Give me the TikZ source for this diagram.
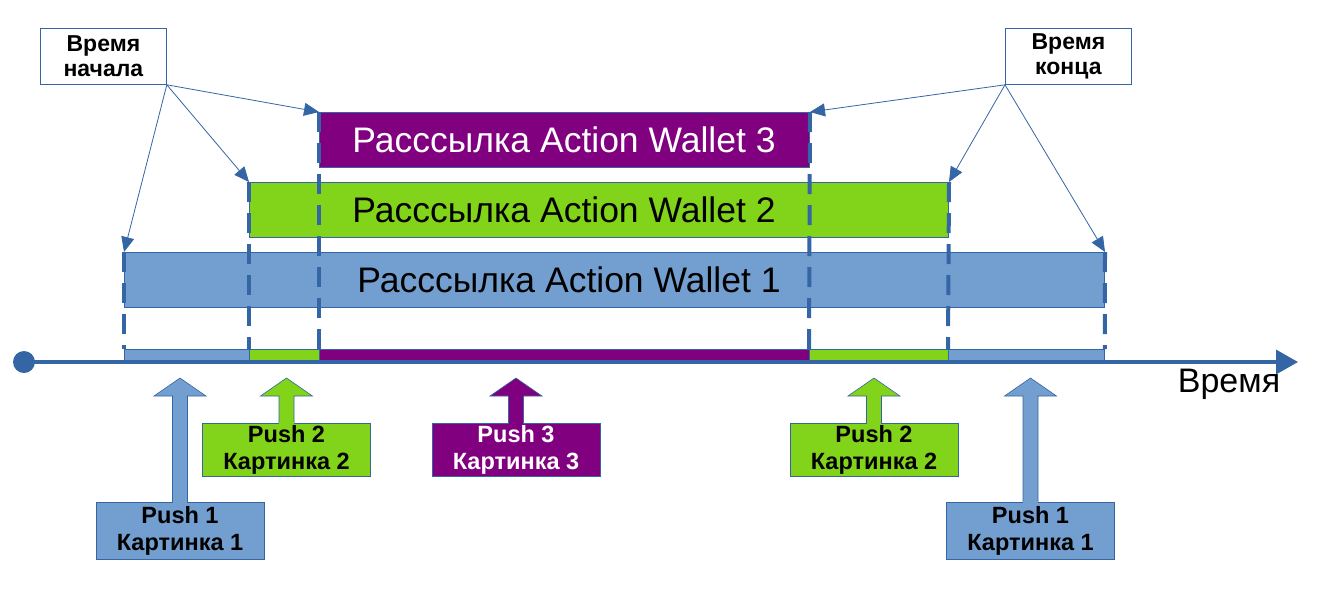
\documentclass[tikz,border=0pt]{standalone}
\usepackage{fontspec}
\setmainfont{Liberation Sans}
\usetikzlibrary{arrows.meta,calc}
\definecolor{cblue}{HTML}{729FCF}
\definecolor{cgreen}{HTML}{81D41A}
\definecolor{cpurple}{HTML}{800080}
\definecolor{cedge}{HTML}{3465A4}
\tikzset{
  bar/.style={draw=cedge, line width=1pt, inner sep=0pt, anchor=north west, minimum height=55pt},
  bartext/.style={inner sep=0pt, font=\fontsize{35.5}{40}\selectfont},
  callout/.style={draw=cedge, fill=white, line width=0.8pt, inner sep=0pt, anchor=north west,
    minimum width=126pt, minimum height=56pt, align=center, font=\bfseries\fontsize{23}{25}\selectfont},
  callarrow/.style={draw=cedge, line width=0.8pt, -{Triangle[length=15pt,width=13pt]}},
  stripseg/.style={draw=cedge, line width=0.8pt, inner sep=0pt, anchor=north west, minimum height=13pt},
  vdash/.style={draw=cedge, line width=4pt, dash pattern=on 20pt off 11pt},
  pushbox/.style={draw=cedge, line width=0.8pt, inner sep=0pt, minimum width=168pt,
    align=center, font=\bfseries\fontsize{23.5}{27}\selectfont},
  pusharrow/.style={draw=cedge, line width=0.6pt},
}
\begin{document}
\begin{tikzpicture}[x=1pt,y=-1pt]
\useasboundingbox (0,0) rectangle (1330,603);

% bars
\node[bar, fill=cblue, minimum width=980pt] (w1) at (124,252) {};
\node[bar, fill=cgreen, minimum width=699pt] (w2) at (249,182) {};
\node[bar, fill=cpurple, minimum width=490pt] (w3) at (319,112) {};
\node[bartext, text=black] (t1) at (569,279.5) {Расссылка Action Wallet 1};
\node[bartext, text=black] (t2) at (564,209.5) {Расссылка Action Wallet 2};
\node[bartext, text=white] (t3) at (564,139.5) {Расссылка Action Wallet 3};

% timeline strip
\node[stripseg, fill=cblue, minimum width=125pt] (s1) at (124,349) {};
\node[stripseg, fill=cgreen, minimum width=70pt] (s2) at (249,349) {};
\node[stripseg, fill=cpurple, minimum width=490pt] (s3) at (319,349) {};
\node[stripseg, fill=cgreen, minimum width=139pt] (s4) at (809,349) {};
\node[stripseg, fill=cblue, minimum width=156pt] (s5) at (948,349) {};

% axis
\node[circle, fill=cedge, minimum size=22pt, inner sep=0pt] (dot) at (24,362) {};
\coordinate (axend) at (1298,362);
\draw[cedge, line width=3.5pt, -{Triangle[length=22pt,width=24pt]}] (dot.center) -- (axend);
\node[anchor=base, inner sep=0pt, font=\fontsize{34}{40}\selectfont] (tl) at (1229,392) {Время};

% dashed verticals
\draw[vdash] (w1.north west) -- (s1.north west);
\draw[vdash] (w2.north west) -- (s2.north west);
\draw[vdash] (w3.north west) -- (s3.north west);
\draw[vdash] (w3.north east) -- (s4.north west);
\draw[vdash] (w2.north east) -- (s5.north west);
\draw[vdash] (w1.north east) -- (s5.north east);

% callouts
\node[callout] (cs) at (40,28) {Время\\начала};
\node[callout] (ce) at (1005,28) {Время\\конца};
\draw[callarrow] (cs.south east) -- (w3.north west);
\draw[callarrow] (cs.south east) -- (w2.north west);
\draw[callarrow] (cs.south east) -- (w1.north west);
\draw[callarrow] (ce.south west) -- (w3.north east);
\draw[callarrow] (ce.south west) -- (w2.north east);
\draw[callarrow] (ce.south west) -- (w1.north east);

% push arrows and boxes
\coordinate (a1) at (180,378);
\coordinate (a2) at (286.5,378);
\coordinate (a3) at (516,378);
\coordinate (a4) at (874,378);
\coordinate (a5) at (1030.5,378);

\node[pushbox, fill=cblue, minimum height=57pt] (p1a) at (180,531) {Push 1\\Картинка 1};
\node[pushbox, fill=cgreen, minimum height=53pt] (p2a) at (286.5,449.5) {Push 2\\Картинка 2};
\node[pushbox, fill=cpurple, text=white, minimum height=53pt] (p3) at (516,449.5) {Push 3\\Картинка 3};
\node[pushbox, fill=cgreen, minimum height=53pt] (p2b) at (874,449.5) {Push 2\\Картинка 2};
\node[pushbox, fill=cblue, minimum height=57pt] (p1b) at (1030.5,531) {Push 1\\Картинка 1};

\foreach \a/\p/\c in {a1/p1a/cblue, a2/p2a/cgreen, a3/p3/cpurple, a4/p2b/cgreen, a5/p1b/cblue}{
  \draw[pusharrow, fill=\c] (\a) -- ++(26,18) -- ++(-18.5,0) -- ($(\p.north)+(7.5,0)$)
    -- ($(\p.north)+(-7.5,0)$) -- ($(\a)+(-7.5,18)$) -- ++(-18.5,0) -- cycle;
  \fill[\c] ($(\p.north)+(-7.1,-1)$) rectangle ($(\p.north)+(7.1,1)$);
}
\end{tikzpicture}
\end{document}
